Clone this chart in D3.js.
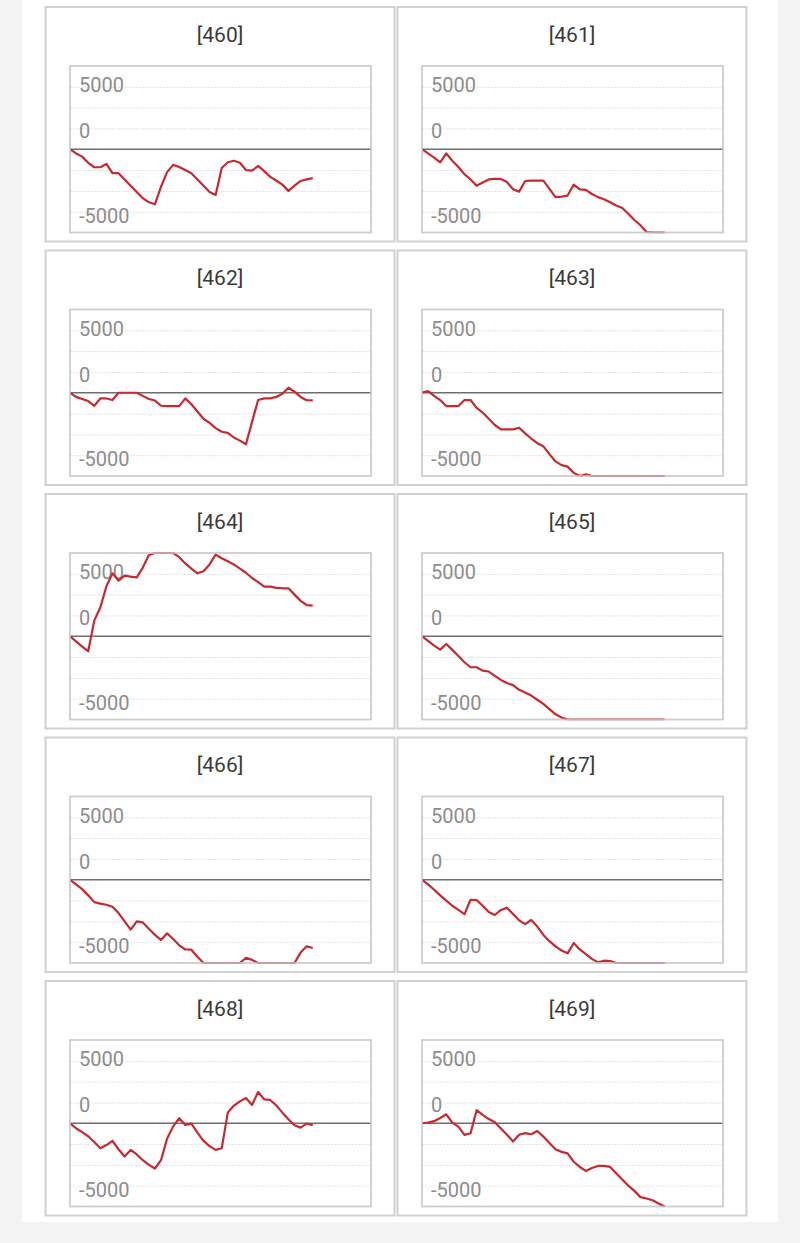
<!DOCTYPE html>
<html><head><meta charset="utf-8">
<script src="https://cdn.jsdelivr.net/npm/d3@7"></script>
<style>
html,body{margin:0;padding:0;background:#f3f3f3;}
svg{display:block;}
</style></head>
<body>
<svg id="chart" width="800" height="1243"></svg>
<script>
// ---------- data ----------
const panelTitles = ["[460]","[461]","[462]","[463]","[464]","[465]","[466]","[467]","[468]","[469]"];
const s460 = [0,-400,-710,-1300,-1730,-1730,-1410,-2300,-2300,-2900,-3500,-4100,-4700,-5100,-5280,-3600,-2200,-1500,-1700,-2000,-2300,-2900,-3500,-4100,-4390,-1800,-1250,-1100,-1300,-2000,-2050,-1600,-2100,-2650,-3000,-3400,-4000,-3500,-3050,-2900,-2780];
const s461 = [0,-400,-800,-1250,-400,-1100,-1700,-2400,-2900,-3500,-3200,-2900,-2850,-2850,-3150,-3850,-4070,-3050,-3010,-3010,-3010,-3800,-4600,-4550,-4450,-3400,-3850,-3900,-4300,-4600,-4800,-5100,-5400,-5650,-6200,-6800,-7300,-7950,-8500,-9000,-9500];
const s462 = [0,-400,-600,-800,-1250,-550,-550,-700,0,0,0,0,-300,-600,-750,-1250,-1280,-1280,-1280,-540,-1100,-1800,-2500,-2900,-3400,-3750,-3850,-4300,-4600,-4950,-2800,-700,-540,-540,-400,-100,480,100,-400,-720,-740];
const s463 = [0,160,-300,-700,-1280,-1280,-1280,-700,-700,-1450,-1900,-2500,-3100,-3520,-3520,-3520,-3360,-3900,-4400,-4850,-5150,-5900,-6600,-6950,-7100,-7700,-8050,-7850,-8100,-8300,-8600,-8800,-9000,-9300,-9600,-9800,-10000,-10200,-10500,-10700,-11000];
const s464 = [0,-500,-1000,-1440,1500,2780,4800,6050,5340,5820,5730,5660,6600,7800,8200,8500,8400,8100,7600,7000,6500,6050,6240,6900,7840,7500,7200,6900,6500,6100,5600,5200,4770,4770,4650,4610,4610,4000,3400,3000,2940];
const s465 = [0,-450,-900,-1280,-740,-1310,-1900,-2500,-2980,-2980,-3300,-3390,-3800,-4200,-4500,-4700,-5150,-5400,-5700,-6100,-6500,-7000,-7500,-7800,-8100,-8400,-8700,-9000,-9300,-9500,-9800,-10000,-10300,-10500,-10800,-11000,-11200,-11500,-11700,-12000,-12200];
const s466 = [0,-450,-900,-1500,-2150,-2300,-2400,-2600,-3200,-4000,-4800,-4000,-4100,-4700,-5300,-5790,-5150,-5700,-6300,-6700,-6720,-7400,-8100,-8300,-8500,-8400,-8600,-8500,-8200,-7500,-7700,-8100,-8300,-8500,-8400,-8600,-8300,-8100,-7000,-6400,-6560];
const s467 = [0,-450,-960,-1500,-2000,-2500,-2900,-3300,-1920,-1950,-2500,-3100,-3390,-2900,-2700,-3300,-3900,-4260,-3870,-4500,-5300,-5900,-6400,-6800,-7070,-6080,-6700,-7140,-7600,-7940,-7780,-7810,-8000,-8200,-8300,-8500,-8700,-8800,-9000,-9200,-9300];
const s468 = [0,-480,-850,-1250,-1800,-2400,-2100,-1700,-2500,-3200,-2560,-3000,-3550,-4000,-4350,-3550,-1470,-300,480,-160,-30,-900,-1700,-2200,-2560,-2400,1020,1700,2100,2430,1760,3010,2300,2240,1700,1020,380,-200,-420,-30,-190];
const s469 = [0,60,200,500,860,60,-320,-1120,-960,1250,800,400,100,-500,-1100,-1760,-1100,-950,-1060,-740,-1280,-1900,-2500,-2750,-2900,-3700,-4200,-4580,-4300,-4100,-4100,-4200,-4800,-5400,-6000,-6500,-7100,-7230,-7400,-7710,-8000];
const allSeries = [s460,s461,s462,s463,s464,s465,s466,s467,s468,s469];
const yDomain = [-8000, 8000];
const xDomain = [0, 49.6];
const gridValues = [-6000,-4000,-2000,2000,4000,6000];
const tickLabels = ["5000","0","-5000"];
const tickLabelAt = [6000, 2000, -6000];

// ---------- layout ----------
const svg = d3.select("#chart");
svg.append("rect").attr("x",22).attr("y",0).attr("width",756).attr("height",1222).attr("fill","#ffffff");

const colX = [45.5, 397.5];
const panelW = 349, panelH = 234.5;
const rowY0 = 7, rowPitch = 243.5;
const boxDX = 24.5, boxDY = 59, boxW = 301, boxH = 166.5;
const labelDy = [5.5, 9.8, 11];

allSeries.forEach((series, k) => {
  const col = k % 2, row = Math.floor(k / 2);
  const px = colX[col], py = rowY0 + row * rowPitch;
  const g = svg.append("g");

  g.append("rect").attr("x",px).attr("y",py).attr("width",panelW).attr("height",panelH)
    .attr("fill","#fff").attr("stroke","#d0d0d0").attr("stroke-width",2);

  g.append("text").attr("x",px + panelW/2).attr("y",py + 34.5)
    .attr("text-anchor","middle").attr("font-family","Roboto, 'Noto Sans', sans-serif")
    .attr("font-size",21).attr("fill","#3a3a3a").text(panelTitles[k]);

  const bx = px + boxDX, by = py + boxDY;
  const x = d3.scaleLinear().domain(xDomain).range([bx, bx + boxW]);
  const y = d3.scaleLinear().domain(yDomain).range([by + boxH, by]);

  // gridlines via axis
  const gridAxis = d3.axisLeft(y).tickValues(gridValues).tickSize(-boxW).tickFormat("");
  const ga = g.append("g").attr("transform",`translate(${bx},0)`).call(gridAxis);
  ga.select(".domain").remove();
  ga.selectAll(".tick line").attr("stroke","#e2e2e2").attr("stroke-width",1).attr("stroke-dasharray","2,1");

  // tick labels (inside)
  tickLabels.forEach((t, i) => {
    g.append("text").attr("x", bx + 9).attr("y", y(tickLabelAt[i]) + labelDy[i])
      .attr("font-family","Roboto, 'Noto Sans', sans-serif").attr("font-size",20)
      .attr("fill","#8c8c8c").text(t);
  });

  // zero baseline
  g.append("line").attr("x1",bx).attr("x2",bx+boxW).attr("y1",y(0)).attr("y2",y(0))
    .attr("stroke","#6e6e6e").attr("stroke-width",1.5);

  // clip + line
  const cid = "clip" + k;
  svg.append("clipPath").attr("id",cid).append("rect")
    .attr("x",bx).attr("y",by - 1).attr("width",boxW).attr("height",boxH + 2);
  const line = d3.line().x((d,i)=>x(i)).y(d=>y(Math.max(yDomain[0], Math.min(yDomain[1], d))));
  g.append("path").datum(series).attr("clip-path",`url(#${cid})`)
    .attr("d",line).attr("fill","none").attr("stroke","#c62a2f").attr("stroke-width",2.2)
    .attr("stroke-linejoin","round");

  // box border
  g.append("rect").attr("x",bx).attr("y",by).attr("width",boxW).attr("height",boxH)
    .attr("fill","none").attr("stroke","#c4c4c4").attr("stroke-opacity",0.85).attr("stroke-width",1.8);
});
</script>
</body></html>
